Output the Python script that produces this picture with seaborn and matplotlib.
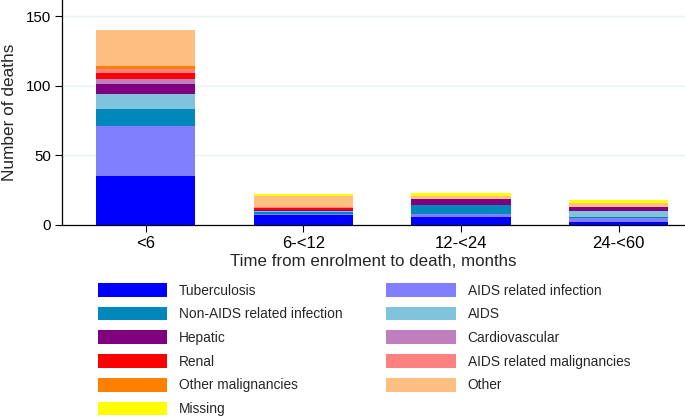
import matplotlib
matplotlib.use("Agg")
import matplotlib.pyplot as plt
import seaborn as sns
import pandas as pd
import numpy as np
from matplotlib.patches import Patch

sns.set_theme(style="white")
plt.rcParams['font.family'] = ['Liberation Sans', 'DejaVu Sans']

periods = ["<6", "6-<12", "12-<24", "24-<60"]
causes = ["Tuberculosis", "AIDS related infection", "Non-AIDS related infection", "AIDS",
          "Hepatic", "Cardiovascular", "Renal", "AIDS related malignancies",
          "Other malignancies", "Other", "Missing"]
tuberculosis = [35, 7, 6, 2]
aids_rel_inf = [36, 1, 2, 3]
non_aids_inf = [12, 1, 6, 1]
aids = [11, 1, 0, 4]
hepatic = [7, 1, 5, 3]
cardiovascular = [4, 0, 0, 0]
renal = [4, 1, 0, 0]
aids_malig = [3, 1, 0, 0]
other_malig = [2, 0, 0, 0]
other = [26, 8, 2, 3]
missing = [0, 1, 2, 2]
colors = ["#0000FF", "#8080FF", "#0087BB", "#7FC3DD", "#800080", "#BF7FBF",
          "#FF0000", "#FF8080", "#FF8000", "#FFBF80", "#FFFF00"]

series = [tuberculosis, aids_rel_inf, non_aids_inf, aids, hepatic, cardiovascular,
          renal, aids_malig, other_malig, other, missing]
df = pd.DataFrame(np.array(series).T, columns=causes)
df["period"] = periods
cum = df[causes].cumsum(axis=1)
cum["period"] = periods

fig = plt.figure(figsize=(6.85, 4.18), dpi=100)
ax = fig.add_axes([62/685, 1 - 225/418, 1 - 62/685, 225/418])

for cause, col in reversed(list(zip(causes, colors))):
    sns.barplot(data=cum, x="period", y=cause, color=col, width=0.63,
                saturation=1, linewidth=0, ax=ax, order=periods)

ax.set_ylim(0, 161.5)
ax.set_xlim(-0.53, 3.42)
ax.set_yticks([0, 50, 100, 150])
ax.yaxis.grid(True, color="#EAF2F3", linewidth=1)
ax.set_axisbelow(True)
for s in ["top", "right"]:
    ax.spines[s].set_visible(False)
for s in ["left", "bottom"]:
    ax.spines[s].set_color("#000000")
    ax.spines[s].set_linewidth(0.9)
ax.tick_params(axis="y", which="both", left=True, length=5, width=0.8, labelsize=10.8, colors="black", pad=3)
ax.tick_params(axis="x", which="both", bottom=True, length=5, width=0.8, labelsize=12, colors="black", pad=3)
ax.set_ylabel("Number of deaths", fontsize=12.4, labelpad=6)
ax.set_xlabel("Time from enrolment to death, months", fontsize=12.2, labelpad=2)

handles = [Patch(facecolor=c, edgecolor="none") for c in colors]
col1 = [0, 2, 4, 6, 8, 10]
col2 = [1, 3, 5, 7, 9]
kw = dict(frameon=False, handlelength=5.09, handleheight=1.16, labelspacing=0.67,
          handletextpad=0.84, fontsize=9.9, borderpad=0, borderaxespad=0, loc="upper left")
fig.legend([handles[i] for i in col1], [causes[i] for i in col1],
           bbox_to_anchor=(97.5/685, 1 - 283/418), **kw)
fig.legend([handles[i] for i in col2], [causes[i] for i in col2],
           bbox_to_anchor=(386/685, 1 - 283/418), **kw)

fig.savefig("out.png", dpi=100)
